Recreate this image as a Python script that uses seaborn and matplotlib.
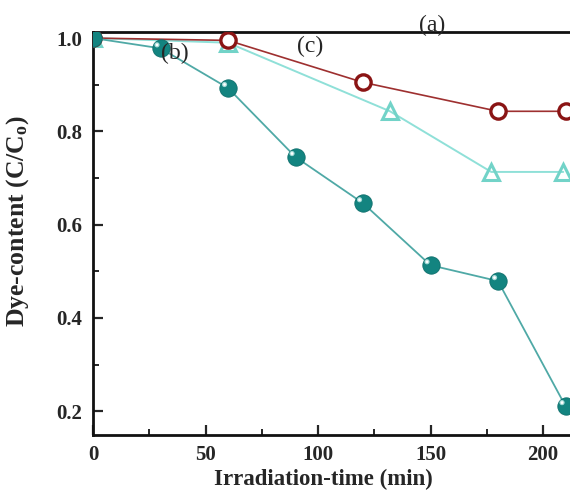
import matplotlib
matplotlib.use("Agg")
import matplotlib.pyplot as plt
import matplotlib.transforms as mtransforms
import seaborn as sns
import pandas as pd

# Irradiation time (min) and normalised dye content for each sample
time_a = [0, 60, 120, 180, 210]
dye_a = [1.0, 0.995, 0.905, 0.843, 0.843]

time_b = [0, 30, 60, 90, 120, 150, 180, 210]
dye_b = [1.0, 0.978, 0.893, 0.745, 0.646, 0.513, 0.479, 0.211]

time_c = [0, 60, 132, 177, 209]
dye_c = [1.0, 0.99, 0.843, 0.713, 0.713]

x_ticks = [0, 50, 100, 150, 200]
y_ticks = [0.2, 0.4, 0.6, 0.8, 1.0]

sns.set_style("ticks")
plt.rcParams["font.family"] = ["Liberation Serif", "DejaVu Serif"]
plt.rcParams["mathtext.fontset"] = "custom"
plt.rcParams["mathtext.rm"] = "Liberation Serif:bold"
plt.rcParams["mathtext.it"] = "Liberation Serif:bold"

fig = plt.figure(figsize=(5.70, 4.93), dpi=100)
ax = fig.add_axes([93 / 570, 1 - 435 / 493, 1 - 93 / 570, (435 - 32) / 493])

df_a = pd.DataFrame({"t": time_a, "c": dye_a})
df_b = pd.DataFrame({"t": time_b, "c": dye_b})
df_c = pd.DataFrame({"t": time_c, "c": dye_c})

# (c): open light-cyan triangles
sns.lineplot(data=df_c, x="t", y="c", ax=ax, color="#8fe0d8", lw=1.4,
             marker="^", markersize=12, markerfacecolor="none",
             markeredgecolor="#72d3c8", markeredgewidth=2.2, zorder=3)
# (a): open dark-red circles
sns.lineplot(data=df_a, x="t", y="c", ax=ax, color="#9e3030", lw=1.2,
             marker="o", markersize=11, markerfacecolor="white",
             markeredgecolor="#8a1414", markeredgewidth=2.4, zorder=4)
# (b): shaded teal spheres
sns.lineplot(data=df_b, x="t", y="c", ax=ax, color="#4fa9a6", lw=1.3,
             marker="o", markersize=12.5, markerfacecolor="#138480",
             markeredgecolor="#0e6f6c", markeredgewidth=0.6, zorder=5)
# specular highlight on each sphere
shift = mtransforms.ScaledTranslation(-2.5 / 72, 2.5 / 72, fig.dpi_scale_trans)
ax.scatter(time_b, dye_b, s=14, color="#bfe9e6", edgecolors="none",
           alpha=0.85, zorder=6, transform=ax.transData + shift)
ax.scatter(time_b, dye_b, s=4, color="white", edgecolors="none",
           zorder=7, transform=ax.transData + shift)

ax.set_xlim(0, 212)
ax.set_ylim(0.149, 1.013)
ax.set_xticks(x_ticks)
ax.set_xticks([25, 75, 125, 175], minor=True)
ax.set_yticks(y_ticks)
ax.set_yticks([0.3, 0.5, 0.7, 0.9], minor=True)
ax.set_xticklabels([str(v) for v in x_ticks])
ax.set_yticklabels([f"{v:.1f}" for v in y_ticks])

ax.tick_params(axis="both", which="major", direction="in", length=7,
               width=1.6, labelsize=15, top=False, right=False)
ax.tick_params(axis="y", which="major", pad=8)
ax.tick_params(axis="x", which="major", pad=7)
ax.tick_params(axis="both", which="minor", direction="in", length=4,
               width=1.4, top=False, right=False)
for lab in ax.get_xticklabels() + ax.get_yticklabels():
    lab.set_fontweight("bold")

for side in ["left", "bottom", "top"]:
    ax.spines[side].set_linewidth(2.0)
    ax.spines[side].set_color("#111111")
ax.spines["right"].set_visible(False)

ax.set_xlabel("Irradiation-time (min)", fontsize=16.5, fontweight="bold")
ax.set_ylabel("Dye-content (C/C$_{o}$)", fontsize=18.5, fontweight="bold")
ax.xaxis.set_label_coords(0.483, -0.084)
ax.yaxis.set_label_coords(-0.13, 0.53)

ax.text(150.5, 1.028, "(a)", fontsize=17, ha="center", va="center",
        clip_on=False, zorder=10)
ax.text(36.5, 0.968, "(b)", fontsize=17, ha="center", va="center", zorder=8)
ax.text(96.5, 0.981, "(c)", fontsize=17, ha="center", va="center", zorder=8)

fig.savefig("out.png", dpi=100)
